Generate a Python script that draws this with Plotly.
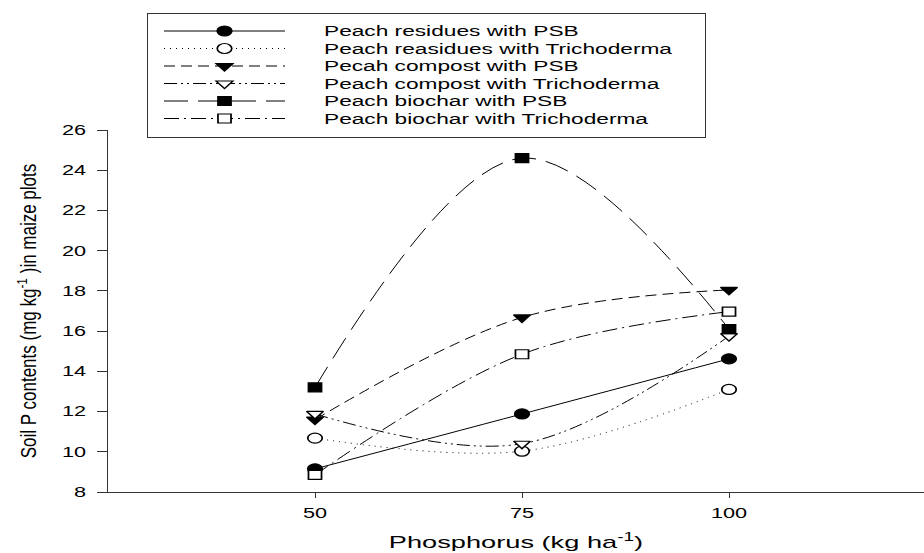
import plotly.graph_objects as go

phosphorus = [50, 75, 100]
series_names = [
    "Peach residues with PSB",
    "Peach reasidues with Trichoderma",
    "Pecah compost with PSB",
    "Peach compost with Trichoderma",
    "Peach biochar with PSB",
    "Peach biochar with Trichoderma",
]
residues_psb = [9.15, 11.88, 14.62]
residues_tricho = [10.68, 10.03, 13.1]
compost_psb = [11.6, 16.68, 18.05]
compost_tricho = [11.88, 10.4, 15.75]
biochar_psb = [13.2, 24.6, 16.1]
biochar_tricho = [8.85, 14.85, 16.97]
y_ticks = [8, 10, 12, 14, 16, 18, 20, 22, 24, 26]
x_ticks = [50, 75, 100]

values = [residues_psb, residues_tricho, compost_psb, compost_tricho, biochar_psb, biochar_tricho]
symbols = ["circle", "circle", "triangle-down", "triangle-down", "square", "square"]
fills = ["black", "white", "black", "white", "black", "white"]
dashes = ["solid", "1px,5px", "11px,6px", "13px,4px,2px,4px,2px,4px", "24px,10px", "15px,5px,2px,5px"]
sizes = [10, 10, 10, 10, 9, 9]

fig = go.Figure()
for name, vals, sym, fill, dash, sz in zip(series_names, values, symbols, fills, dashes, sizes):
    fig.add_trace(go.Scatter(
        x=phosphorus, y=vals, name=name, mode="lines+markers",
        line=dict(color="black", width=1, dash=dash, shape="spline", smoothing=1),
        marker=dict(symbol=sym, size=sz, color=fill, line=dict(color="black", width=1.2)),
    ))

fig.update_layout(
    width=924, height=553,
    margin=dict(l=108, r=0, t=130, b=61),
    paper_bgcolor="white", plot_bgcolor="white",
    font=dict(family="Liberation Sans, Arial, sans-serif", size=14, color="black"),
    showlegend=True,
    legend=dict(
        x=0.0478, y=1.3232, xanchor="left", yanchor="top",
        bordercolor="#333", borderwidth=1, bgcolor="white",
        itemwidth=166, font=dict(size=14), tracegroupgap=0,
    ),
    xaxis=dict(
        range=[25, 123.55], tickvals=x_ticks, ticks="outside", ticklen=5, tickcolor="#333",
        showline=True, linecolor="#333", linewidth=1, showgrid=False, zeroline=False,
        tickfont=dict(size=14), ticklabelstandoff=3,
        title=dict(text="Phosphorus (kg ha<sup>-1</sup>)", font=dict(size=17), standoff=16),
    ),
    yaxis=dict(
        range=[8, 26], tickvals=y_ticks, ticks="outside", ticklen=10, tickcolor="#333",
        showline=True, linecolor="#333", linewidth=1, showgrid=False, zeroline=False,
        tickfont=dict(size=14), ticklabelstandoff=8,
        title=dict(text="Soil P contents (mg kg<sup>-1</sup> )in maize plots", font=dict(size=17), standoff=30),
    ),
)

# The reference figure is horizontally stretched (~1.6x); mimic by stretching texts/markers.
post_js = """
var gd = document.getElementById('{plot_id}');
function stretchText(sel, sx) {
  gd.querySelectorAll(sel).forEach(function (t) {
    var w = t.getComputedTextLength();
    if (w > 0) {
      t.setAttribute('textLength', (w * sx).toFixed(2));
      t.setAttribute('lengthAdjust', 'spacingAndGlyphs');
    }
  });
}
stretchText('.xtick text', 1.55);
stretchText('.ytick text', 1.55);
stretchText('.g-xtitle text', 1.6);
stretchText('.legend .legendtext', 1.62);
gd.querySelectorAll('.g-ytitle text').forEach(function (t) {
  var cx = parseFloat(t.getAttribute('x')) - 4;
  var tr = t.getAttribute('transform') || '';
  t.setAttribute('transform', 'translate(' + cx + ',0) scale(1.3,1) translate(' + (-cx) + ',0) ' + tr);
});
gd.querySelectorAll('.scatterlayer path.point').forEach(function (p) {
  p.setAttribute('transform', (p.getAttribute('transform') || '') + ' scale(1.45,1)');
});
var bg = gd.querySelector('.legend rect.bg');
if (bg) { bg.setAttribute('width', 558); bg.setAttribute('height', 124); }
gd.querySelectorAll('clipPath[id^="legend"] rect').forEach(function (r) {
  r.setAttribute('width', 558); r.setAttribute('height', 124);
});
gd.querySelectorAll('.legend .traces').forEach(function (g, i) {
  var m = /translate\\(([-\\d.]+)[ ,]+([-\\d.]+)\\)/.exec(g.getAttribute('transform') || '');
  var x = m ? parseFloat(m[1]) : 0;
  g.setAttribute('transform', 'translate(' + x + ',' + (18 + i * 17.5) + ')');
  g.querySelectorAll('.legendlines path').forEach(function (p) { p.setAttribute('d', 'M16,0h121'); });
  g.querySelectorAll('.legendpoints path.scatterpts').forEach(function (p) {
    p.setAttribute('transform', 'translate(76.5,0) scale(1.45,1)');
  });
});
"""

fig.write_html("out.html", post_script=post_js)
